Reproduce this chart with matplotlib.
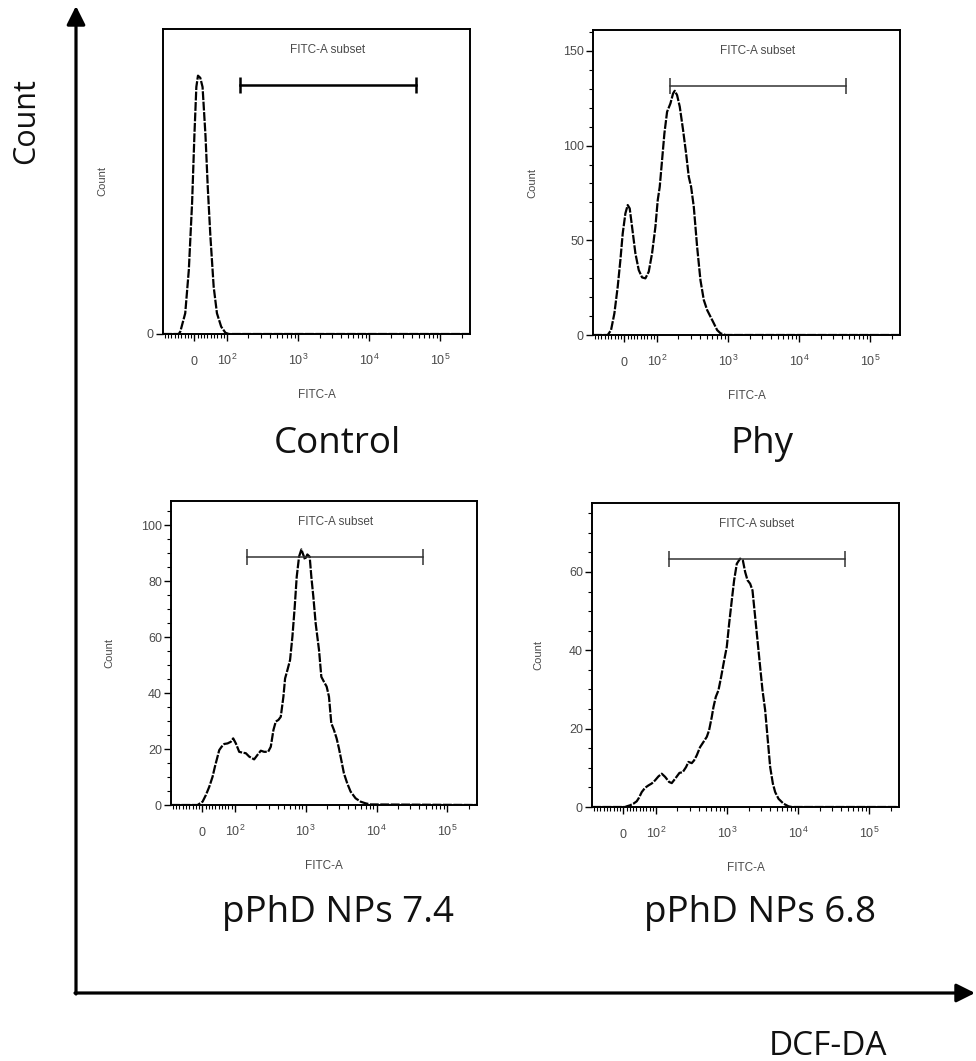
import matplotlib
matplotlib.use('Agg')
import matplotlib.pyplot as plt

plt.rcParams['font.family'] = ['Liberation Sans', 'DejaVu Sans']
plt.rcParams['mathtext.fontset'] = 'custom'
plt.rcParams['mathtext.rm'] = 'Liberation Sans'

# ---------------- data (FITC-A fluorescence vs. count) ----------------
control_x = [-96, -48, -43, -28, -17, -7, 0, 6, 11, 18, 25, 34, 41, 49, 59, 69, 82, 95, 106, 262144]
control_y = [0, 0, 0.8, 6.8, 21, 43, 65, 81, 84.7, 84, 81, 65, 48, 32, 15.5, 6.8, 2.4, 0.4, 0, 0]

phy_x = [-96, -51, -40.8, -30.6, -20.4, -12.2, -5.1, 3.1, 10.2, 16.3, 23.5, 33.7, 43.9, 54.1, 64.3,
         74.5, 84.7, 94.9, 102.2, 109.0, 117.6, 126.8, 138.3, 154.1, 168.0, 177.4, 191.3, 208.6,
         232.4, 256.2, 279.3, 301.3, 328.5, 366.0, 407.7, 454.3, 506.2, 563.9, 628.3, 700.1, 779.8,
         917.2, 1021.9, 262144]
phy_y = [0, 0, 2.6, 11.4, 25.5, 39.6, 53.6, 64.2, 68.6, 66.8, 57.1, 43.1, 34.3, 30.4, 29.9,
         33.4, 43.1, 57.1, 71.2, 78.2, 92.3, 106.4, 117.8, 122.2, 127.5, 128.9, 126.6, 120.5,
         108.1, 95.8, 83.5, 78.2, 67.7, 46.6, 29.0, 18.5, 13.2, 9.7, 6.2, 2.6, 0.9,
         0, 0, 0]

np74_x = [-96, -14.3, -9.2, 1.0, 11.2, 21.4, 31.6, 38.8, 46.9, 52.0, 59.2, 67.3, 77.6, 87.8, 94.9,
          103.3, 115.1, 128.3, 142.9, 159.2, 187.2, 208.6, 232.4, 258.9, 294.8, 321.4, 350.4,
          378.0, 412.1, 444.5, 484.6, 511.7, 552.0, 601.7, 649.1, 700.1, 746.9, 805.7, 869.0,
          926.9, 978.6, 1055.6, 1138.5, 1201.8, 1282.3, 1382.7, 1541.3, 1662.4, 1812.5, 1976.4,
          2131.5, 2298.9, 2506.4, 2733.0, 2947.6, 3179.0, 3466.0, 3863.6, 4303.8, 5060.4,
          5950.0, 7000.8, 8231.0, 262144]
np74_y = [0, 0, 0.4, 1.2, 3.6, 6.5, 10.1, 13.7, 17.3, 19.6, 20.8, 21.8, 22.0, 22.6, 23.8,
          22.0, 19.0, 18.7, 18.5, 17.3, 16.3, 17.9, 19.4, 19.0, 19.0, 20.8, 26.8,
          29.8, 30.4, 31.5, 38.7, 45.2, 48.2, 51.8, 60.1, 70.8, 81.5, 88.7, 91.3,
          89.3, 87.7, 89.5, 88.7, 81.5, 74.4, 64.9, 55.4, 45.8, 44.0, 42.3,
          38.7, 29.2, 26.8, 23.8, 20.2, 16.1, 11.3, 7.7, 4.8, 2.4,
          1.2, 0.6, 0.2, 0]

np68_x = [-96, 5.1, 10.2, 20.4, 30.6, 40.8, 48.0, 56.1, 66.3, 76.5, 86.7, 96.9, 107.9, 120.2,
          133.9, 152.4, 166.2, 185.2, 213.1, 237.4, 264.5, 285.4, 317.9, 342.9, 373.9, 416.6,
          464.2, 517.0, 557.7, 608.1, 642.1, 692.5, 755.0, 823.1, 907.6, 989.2, 1067.1, 1163.4,
          1254.6, 1368.4, 1524.6, 1662.4, 1792.9, 1933.6, 2108.3, 2273.8, 2479.7, 2673.7,
          2916.3, 3145.5, 3429.2, 3699.2, 4032.8, 4397.6, 4744.4, 5284.5, 6215.8, 7309.4,
          8143.0, 262144]
np68_y = [0, 0, 0.17, 0.43, 0.85, 1.45, 2.4, 3.8, 4.9, 5.5, 6.0, 6.8, 7.8, 8.5,
          7.7, 6.4, 6.1, 7.2, 8.7, 8.9, 10.2, 11.5, 11.2, 11.9, 13.2, 15.3,
          16.6, 17.9, 19.6, 23.0, 25.5, 28.1, 29.8, 33.2, 37.4, 40.9, 46.8, 52.8,
          57.9, 62.1, 63.4, 63.0, 60.0, 57.9, 57.0, 55.3, 48.5, 42.6,
          35.7, 29.8, 24.7, 17.9, 10.2, 6.0, 3.8, 2.1, 0.85, 0.17,
          0, 0]

panel_names = ['Control', 'Phy', 'pPhD NPs 7.4', 'pPhD NPs 6.8']
panel_x = [control_x, phy_x, np74_x, np68_x]
panel_y = [control_y, phy_y, np74_y, np68_y]
y_max = [100, 161, 108.6, 77.6]
y_major = [[0], [0, 50, 100, 150], [0, 20, 40, 60, 80, 100], [0, 20, 40, 60]]
y_minor_step = [None, 10, 5, 5]
gate_low, gate_high = 150, 46000
gate_level = [81.6, 131.5, 88.6, 63.3]
x_major = [0, 1e2, 1e3, 1e4, 1e5]
x_major_labels = ['0', r'$\mathregular{10^2}$', r'$\mathregular{10^3}$',
                  r'$\mathregular{10^4}$', r'$\mathregular{10^5}$']
x_minor = (list(range(-90, 0, 10)) + list(range(10, 100, 10))
           + [k * 10 ** e for e in (2, 3, 4) for k in range(2, 10)] + [200000])

# ---------------- layout ----------------
W, H = 976, 1061
fig = plt.figure(figsize=(W / 100, H / 100), dpi=100)

bg = fig.add_axes([0, 0, 1, 1])
bg.set_xlim(0, W)
bg.set_ylim(H, 0)
bg.axis('off')

arrow_kw = dict(arrowstyle='-|>', lw=2.3, color='black', mutation_scale=28,
                shrinkA=0, shrinkB=0)
bg.annotate('', xy=(76, 6), xytext=(76, 994), arrowprops=arrow_kw)
bg.annotate('', xy=(975, 993), xytext=(75, 993), arrowprops=arrow_kw)
bg.text(26, 121, 'Count', rotation=90, ha='center', va='center',
        fontsize=22, family='Open Sans', color='#111111')
bg.text(828, 1055, 'DCF-DA', ha='center', va='baseline',
        fontsize=24, family='Open Sans', color='#111111')

rects = [(163, 29, 470, 334), (593, 30, 900, 335), (171, 501, 477, 805), (592, 503, 899, 807)]
name_pos = [(337, 453), (762, 453), (338, 922), (760, 922)]
ylabel_off = [0.182, 0.182, 0.186, 0.16]
gate_style = [dict(color='black', lw=1.8), dict(color='#333333', lw=1.1),
              dict(color='#333333', lw=1.1), dict(color='#333333', lw=1.1)]

gray = '#4a4a4a'
for i in range(4):
    l, t, r, b = rects[i]
    ax = fig.add_axes([l / W, 1 - b / H, (r - l) / W, (b - t) / H])
    ax.set_xscale('symlog', linthresh=100, linscale=0.414, base=10)
    ax.plot(panel_x[i], panel_y[i], color='black', lw=1.6, ls=(0, (4, 0.7)))
    ax.set_xlim(-96, 262144)
    ax.set_ylim(0, y_max[i])

    ax.set_xticks(x_major)
    ax.set_xticklabels(x_major_labels)
    ax.set_xticks(x_minor, minor=True)
    ax.set_yticks(y_major[i])
    ax.set_yticklabels([str(v) for v in y_major[i]])
    if y_minor_step[i]:
        ax.set_yticks([v for v in range(0, int(y_max[i]) + 1, y_minor_step[i])
                       if v not in y_major[i]], minor=True)
    else:
        ax.set_yticks([], minor=True)

    ax.tick_params(axis='both', which='major', direction='out', length=5, width=1,
                   color='black', labelcolor=gray, labelsize=9)
    ax.tick_params(axis='both', which='minor', direction='out', length=2.8, width=0.8,
                   color='black')
    ax.tick_params(axis='x', which='major', pad=17)
    ax.tick_params(axis='y', which='major', pad=1.5)
    for tk in ax.xaxis.get_major_ticks():
        tk.label1.set_verticalalignment('baseline')

    for sp in ax.spines.values():
        sp.set_linewidth(1.4)
        sp.set_color('black')

    ax.set_xlabel('FITC-A', fontsize=8.5, color=gray)
    ax.xaxis.set_label_coords(0.5, -0.18)
    ax.set_ylabel('Count', fontsize=8, color=gray)
    ax.yaxis.set_label_coords(-ylabel_off[i], 0.5)

    ax.text(0.537, 0.93, 'FITC-A subset', transform=ax.transAxes, ha='center',
            va='center', fontsize=8.5, color=gray)
    ax.plot([gate_low, gate_high], [gate_level[i], gate_level[i]], marker='|',
            markersize=11, markeredgewidth=gate_style[i]['lw'], **gate_style[i])

    bg.text(name_pos[i][0], name_pos[i][1], panel_names[i], ha='center', va='baseline',
            fontsize=26.5, family='Open Sans', color='#111111')

fig.savefig('out.png', dpi=100)
